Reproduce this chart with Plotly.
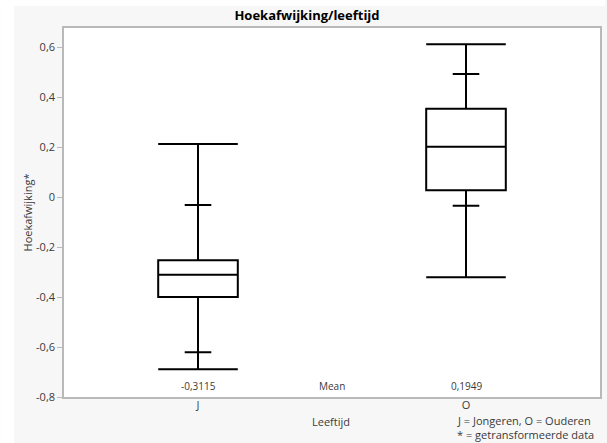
import plotly.graph_objects as go

# ---- data ----
categories = ["J", "O"]
q1_vals = [-0.400, 0.027]
median_vals = [-0.311, 0.201]
q3_vals = [-0.253, 0.353]
lower_whisker = [-0.689, -0.321]
upper_whisker = [0.212, 0.611]
lower_tick = [-0.621, -0.035]
upper_tick = [-0.032, 0.492]
mean_labels = ["-0,3115", "0,1949"]
y_tick_vals = [-0.8, -0.6, -0.4, -0.2, 0, 0.2, 0.4, 0.6]
y_tick_text = ["-0,8", "-0,6", "-0,4", "-0,2", "0", "0,2", "0,4", "0,6"]

W, H = 607, 443
ML, MR, MT, MB = 64, 5, 28, 46
FONT = "Open Sans"
GRAY_BG = "#f7f7f7"
TXT = "#3a3a3a"

fig = go.Figure()
fig.add_trace(go.Box(
    x=categories, q1=q1_vals, median=median_vals, q3=q3_vals,
    lowerfence=lower_whisker, upperfence=upper_whisker,
    width=0.297, whiskerwidth=1,
    fillcolor="white", line=dict(color="black", width=2),
    boxpoints=False, showlegend=False, hoverinfo="skip",
))
for vals in (lower_tick, upper_tick):
    fig.add_trace(go.Scatter(
        x=categories, y=vals, mode="markers", showlegend=False, hoverinfo="skip",
        marker=dict(symbol="line-ew", size=19, color="black",
                    line=dict(color="black", width=2)),
    ))

# mean labels
for c, t in zip(categories, mean_labels):
    fig.add_annotation(x=c, y=-0.755, xref="x", yref="y", text=t, showarrow=False,
                       font=dict(family=FONT, size=10, color=TXT))
fig.add_annotation(x=0.5, y=-0.755, xref="x", yref="y", text="Mean", showarrow=False,
                   font=dict(family=FONT, size=10, color=TXT))

pw = W - ML - MR
ph = H - MT - MB
def px(x):
    return (x - ML) / pw
def py(y):
    return (H - MB - y) / ph

fig.add_annotation(x=px(332), y=py(421.5), xref="paper", yref="paper", text="Leeftijd",
                   showarrow=False, xanchor="center", yanchor="middle",
                   font=dict(family=FONT, size=11, color=TXT))
fig.add_annotation(x=px(456), y=py(420.5), xref="paper", yref="paper",
                   text="J = Jongeren, O = Ouderen",
                   showarrow=False, xanchor="left", yanchor="middle",
                   font=dict(family=FONT, size=11, color=TXT))
fig.add_annotation(x=px(456), y=py(434.5), xref="paper", yref="paper",
                   text="* = getransformeerde data",
                   showarrow=False, xanchor="left", yanchor="middle",
                   font=dict(family=FONT, size=11, color=TXT))

# white strips outside gray panel
fig.add_shape(type="rect", xref="paper", yref="paper", x0=px(0), x1=px(14), y0=py(H), y1=py(0),
              fillcolor="white", line_width=0, layer="below")
fig.add_shape(type="rect", xref="paper", yref="paper", x0=px(0), x1=px(W), y0=py(6), y1=py(0),
              fillcolor="white", line_width=0, layer="below")

fig.update_layout(
    width=W, height=H,
    margin=dict(l=ML, r=MR, t=MT, b=MB, pad=0),
    paper_bgcolor=GRAY_BG, plot_bgcolor="white",
    title=dict(text="<b>Hoekafwijking/leeftijd</b>", x=307 / W, xanchor="center",
               y=1 - 15 / H, yanchor="middle",
               font=dict(family=FONT, size=13, color="black")),
    font=dict(family=FONT, size=11, color=TXT),
    xaxis=dict(type="category", range=[-0.5, 1.5], showline=True, mirror=True,
               linecolor="#b9b9b9", linewidth=1.5, ticks="", showgrid=False,
               ticklabelstandoff=-3,
               tickfont=dict(size=11, color=TXT)),
    yaxis=dict(range=[-0.8, 0.676], tickvals=y_tick_vals, ticktext=y_tick_text,
               showline=True, mirror=True, linecolor="#b9b9b9", linewidth=1.5,
               ticks="outside", ticklen=5, tickcolor="#b9b9b9", showgrid=False,
               zeroline=False, tickfont=dict(size=11, color=TXT),
               title=dict(text="Hoekafwijking*", font=dict(size=11, color=TXT), standoff=1)),
)

fig.write_html("out.html", config={"displayModeBar": False},
               post_script="document.body.style.margin='0';")
